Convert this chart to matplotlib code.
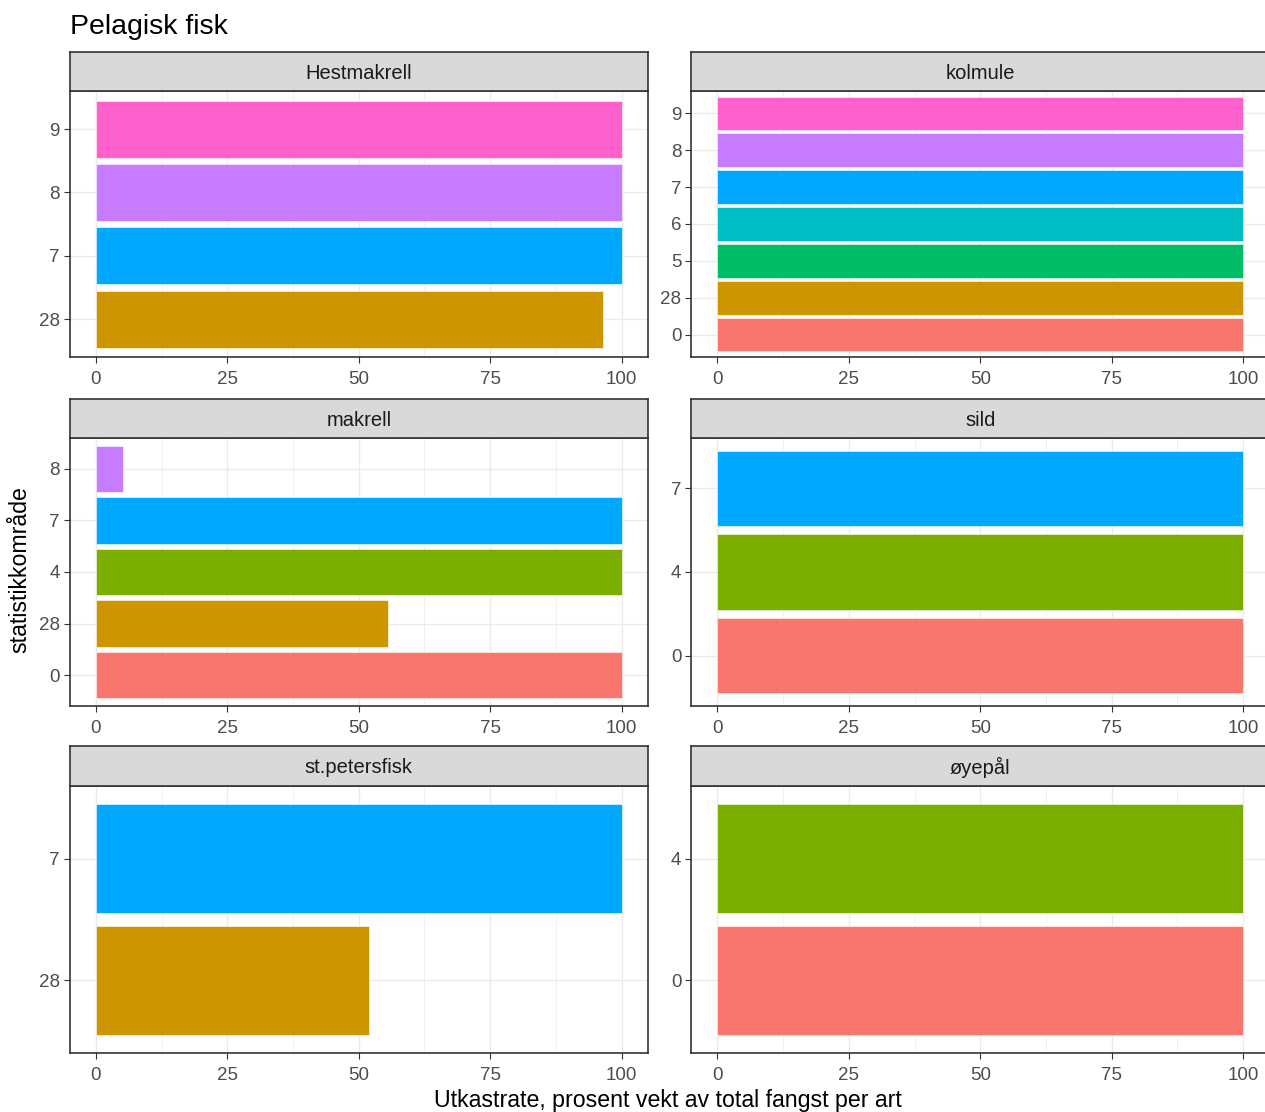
import matplotlib
matplotlib.use("Agg")
from matplotlib import pyplot as plt

plt.rcParams['font.family'] = ['Liberation Sans', 'DejaVu Sans']

# ggplot hue-palett for statistikkområde
farger = {'0': '#F8766D', '28': '#CD9600', '4': '#7CAE00', '5': '#00BE67',
          '6': '#00BFC4', '7': '#00A9FF', '8': '#C77CFF', '9': '#FF61CC'}

arter = ['Hestmakrell', 'kolmule', 'makrell', 'sild', 'st.petersfisk', 'øyepål']

omr_hestmakrell = ['28', '7', '8', '9']
val_hestmakrell = [96.5, 100, 100, 100]

omr_kolmule = ['0', '28', '5', '6', '7', '8', '9']
val_kolmule = [100, 100, 100, 100, 100, 100, 100]

omr_makrell = ['0', '28', '4', '7', '8']
val_makrell = [100, 55.5, 100, 100, 5.2]

omr_sild = ['0', '4', '7']
val_sild = [100, 100, 100]

omr_stpeter = ['28', '7']
val_stpeter = [52, 100]

omr_oyepal = ['0', '4']
val_oyepal = [100, 100]

data = [(omr_hestmakrell, val_hestmakrell), (omr_kolmule, val_kolmule),
        (omr_makrell, val_makrell), (omr_sild, val_sild),
        (omr_stpeter, val_stpeter), (omr_oyepal, val_oyepal)]

W, H = 1265, 1112
fig = plt.figure(figsize=(W / 100, H / 100), dpi=100)

kol_x = [(69.5, 648), (691, 1269.5)]
rad_y = [((52, 91), (91, 357)), ((399, 438), (438, 706)), ((746, 786), (786, 1053))]


def boks(x0, x1, y0, y1):
    return [x0 / W, 1 - y1 / H, (x1 - x0) / W, (y1 - y0) / H]


for i, (art, (omr, verdier)) in enumerate(zip(arter, data)):
    r, k = divmod(i, 2)
    x0, x1 = kol_x[k]
    (s0, s1), (a0, a1) = rad_y[r]

    ax = fig.add_axes(boks(x0, x1, a0, a1))
    n = len(omr)
    ax.barh(range(n), verdier, height=0.9, color=[farger[o] for o in omr],
            edgecolor='white', linewidth=0.4, zorder=3)
    ax.set_xlim(-5, 105)
    ax.set_ylim(-0.6, n - 0.4)
    ax.set_xticks([0, 25, 50, 75, 100])
    ax.set_xticks([12.5, 37.5, 62.5, 87.5], minor=True)
    ax.set_yticks(range(n))
    ax.set_yticklabels(omr)
    ax.grid(True, which='major', color='#EBEBEB', linewidth=1.0, zorder=0)
    ax.grid(True, which='minor', axis='x', color='#EBEBEB', linewidth=0.5, zorder=0)
    ax.set_axisbelow(True)
    ax.tick_params(axis='both', which='major', labelsize=13.5, labelcolor='#4D4D4D',
                   color='#333333', length=4, width=0.8)
    ax.tick_params(axis='x', which='major', pad=6)
    ax.tick_params(axis='y', which='major', pad=3)
    ax.tick_params(which='minor', length=0)
    for sp in ax.spines.values():
        sp.set_color('#333333')
        sp.set_linewidth(1.2)

    st = fig.add_axes(boks(x0, x1, s0, s1))
    st.set_facecolor('#D9D9D9')
    st.set_xticks([])
    st.set_yticks([])
    for sp in st.spines.values():
        sp.set_color('#333333')
        sp.set_linewidth(1.2)
    st.text(0.5, 0.46, art, ha='center', va='center', fontsize=14.5,
            color='#1A1A1A', transform=st.transAxes)

fig.text(70 / W, 1 - 27 / H, 'Pelagisk fisk', ha='left', va='center', fontsize=20.5,
         color='black')
fig.text(668 / W, 1 - 1101 / H, 'Utkastrate, prosent vekt av total fangst per art',
         ha='center', va='center', fontsize=16.7, color='black')
fig.text(20 / W, 1 - 570 / H, 'statistikkområde', ha='center', va='center',
         rotation=90, fontsize=16.7, color='black')

fig.savefig('out.png', dpi=100)
